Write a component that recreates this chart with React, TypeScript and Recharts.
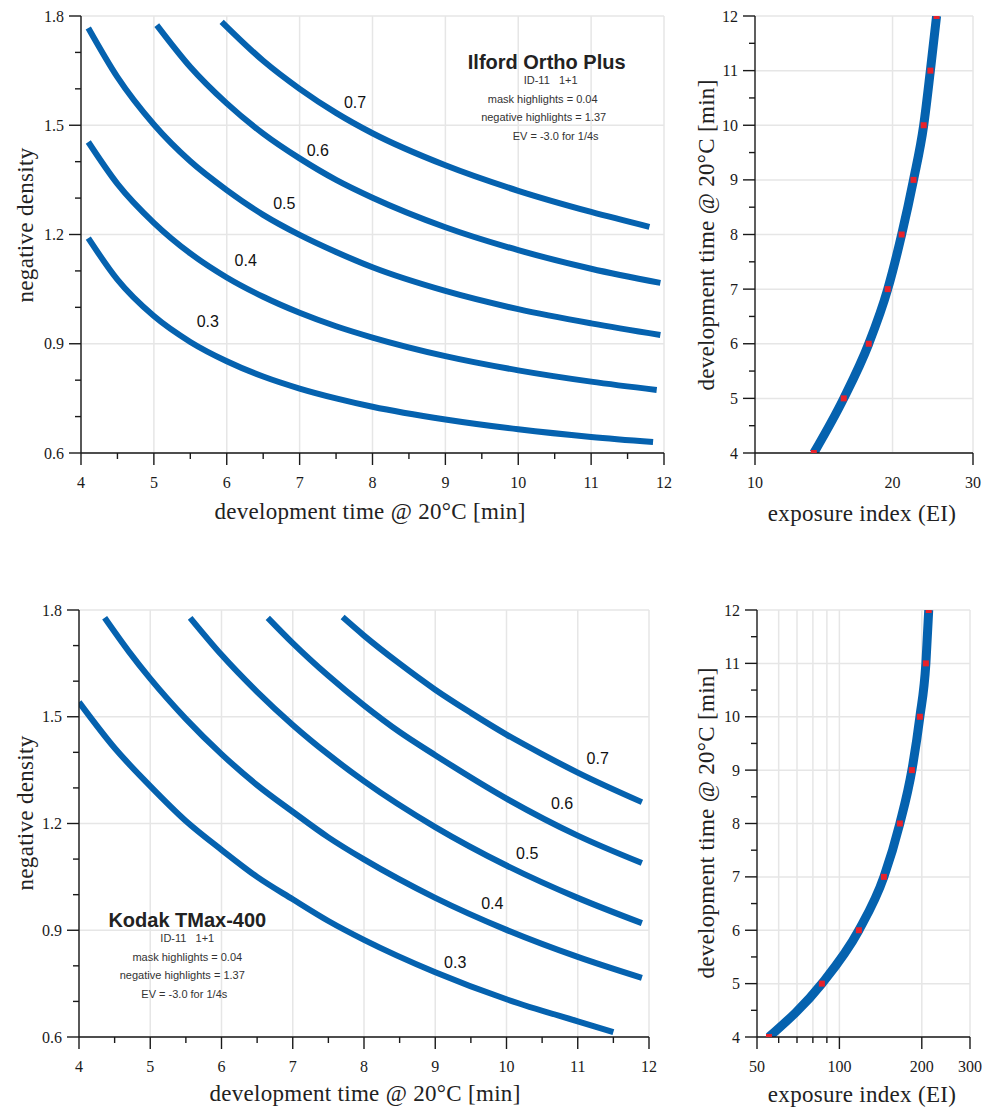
import React from 'react';
import { LineChart, Line, XAxis, YAxis, CartesianGrid, ReferenceDot } from 'recharts';

const BLUE = '#0562af';
const RED = '#e8222b';
const GRID = '#e6e6e6';
const INK = '#1a1a1a';
const SERIF = '"Liberation Serif", "Times New Roman", serif';
const SANS = '"Liberation Sans", Arial, sans-serif';

// Ilford Ortho Plus: development time [min] -> negative density, one curve per contrast index
const ilfordTime03 = [4.1, 4.5, 5, 5.5, 6, 6.5, 7, 7.5, 8, 9, 10, 11, 11.85];
const ilfordDens03 = [1.19, 1.076, 0.976, 0.905, 0.852, 0.81, 0.777, 0.75, 0.727, 0.692, 0.665, 0.644, 0.63];
const ilfordTime04 = [4.1, 4.5, 5, 5.5, 6, 6.5, 7, 7.5, 8, 9, 10, 11, 11.9];
const ilfordDens04 = [1.454, 1.339, 1.232, 1.148, 1.082, 1.029, 0.985, 0.948, 0.917, 0.866, 0.827, 0.796, 0.773];
const ilfordTime05 = [4.1, 4.5, 5, 5.5, 6, 6.5, 7, 7.5, 8, 9, 10, 11, 11.95];
const ilfordDens05 = [1.767, 1.632, 1.502, 1.401, 1.322, 1.254, 1.199, 1.152, 1.11, 1.045, 0.995, 0.956, 0.924];
const ilfordTime06 = [5.04, 5.5, 6, 6.5, 7, 7.5, 8, 9, 10, 11, 11.95];
const ilfordDens06 = [1.775, 1.66, 1.56, 1.477, 1.409, 1.35, 1.301, 1.22, 1.157, 1.106, 1.067];
const ilfordTime07 = [5.93, 6.5, 7, 7.5, 8, 9, 10, 11, 11.8];
const ilfordDens07 = [1.784, 1.677, 1.6, 1.534, 1.478, 1.39, 1.32, 1.262, 1.221];

// Kodak TMax-400
const kodakTime03 = [4, 4.5, 5, 5.5, 6, 6.5, 7, 7.5, 8, 9, 10, 11, 11.5];
const kodakDens03 = [1.541, 1.412, 1.305, 1.207, 1.126, 1.05, 0.987, 0.926, 0.873, 0.782, 0.706, 0.644, 0.614];
const kodakTime04 = [4.36, 4.7, 5, 5.5, 6, 6.5, 7, 7.5, 8, 9, 10, 11, 11.9];
const kodakDens04 = [1.778, 1.683, 1.607, 1.494, 1.395, 1.308, 1.233, 1.161, 1.099, 0.991, 0.901, 0.825, 0.766];
const kodakTime05 = [5.56, 6, 6.5, 7, 7.5, 8, 9, 10, 11, 11.9];
const kodakDens05 = [1.778, 1.674, 1.57, 1.477, 1.394, 1.319, 1.19, 1.082, 0.991, 0.92];
const kodakTime06 = [6.65, 7, 7.5, 8, 8.5, 9, 10, 11, 11.9];
const kodakDens06 = [1.778, 1.707, 1.615, 1.532, 1.457, 1.392, 1.27, 1.166, 1.089];
const kodakTime07 = [7.7, 8, 8.5, 9, 9.5, 10, 10.5, 11, 11.9];
const kodakDens07 = [1.78, 1.728, 1.649, 1.576, 1.511, 1.45, 1.395, 1.343, 1.26];

const contrastLabels = ['0.3', '0.4', '0.5', '0.6', '0.7'];
// where each curve label sits, in data units (time, density)
const ilfordLabelTime = [5.74, 6.26, 6.79, 7.25, 7.76];
const ilfordLabelDens = [0.962, 1.13, 1.286, 1.432, 1.564];
const kodakLabelTime = [9.28, 9.8, 10.29, 10.78, 11.28];
const kodakLabelDens = [0.811, 0.977, 1.117, 1.258, 1.384];

// exposure index needed for each development time
const devTimes = [4, 5, 6, 7, 8, 9, 10, 11, 12];
const ilfordEI = [13.45, 15.64, 17.74, 19.52, 20.94, 22.23, 23.4, 24.2, 24.97];
const kodakEI = [55.3, 86.3, 117.8, 145.4, 166.3, 184, 196.8, 207, 212];

const ilfordNotes = ['ID-11   1+1', 'mask highlights = 0.04', 'negative highlights = 1.37', 'EV = -3.0 for 1/4s'];
const kodakNotes = ['ID-11   1+1', 'mask highlights = 0.04', 'negative highlights = 1.37', 'EV = -3.0 for 1/4s'];

const densityMajor = [0.6, 0.9, 1.2, 1.5, 1.8];
const densityMinor = [0.7, 0.8, 1.0, 1.1, 1.3, 1.4, 1.6, 1.7];
const timeMajor = [4, 5, 6, 7, 8, 9, 10, 11, 12];
const timeMinor = [4.5, 5.5, 6.5, 7.5, 8.5, 9.5, 10.5, 11.5];
const eiTicksTop = [10, 20, 30];
const eiTicksBottom = [50, 100, 200, 300];
const eiMinorBottom = [60, 70, 80, 90];

const rows = (times: number[], dens: number[]) => times.map((t, i) => ({ t, d: dens[i] }));
const eiRows = (ei: number[]) => ei.map((e, i) => ({ ei: e, t: devTimes[i] }));
const sorted = (a: number[], b: number[]) => [...a, ...b].sort((p, q) => p - q);
const has = (arr: number[], v: number) => arr.some((a) => Math.abs(a - v) < 1e-6);

const bottomTick = (majors: number[], fmt: (v: number) => string, noLine: number[] = []) => (props: any) => {
  const { x, y, payload } = props;
  const v = payload.value;
  const major = has(majors, v);
  return (
    <g>
      {!has(noLine, v) && (
        <line x1={x} x2={x} y1={y} y2={y + (major ? 12 : 6)} stroke={INK} strokeWidth={1.4} />
      )}
      {major && (
        <text x={x} y={y + 35} textAnchor="middle" fontFamily={SERIF} fontSize={16} fill={INK}>
          {fmt(v)}
        </text>
      )}
    </g>
  );
};

const leftTick = (majors: number[], fmt: (v: number) => string) => (props: any) => {
  const { x, y, payload } = props;
  const v = payload.value;
  const major = has(majors, v);
  return (
    <g>
      <line x1={x} x2={x - (major ? 12 : 6)} y1={y} y2={y} stroke={INK} strokeWidth={1.4} />
      {major && (
        <text x={x - 17} y={y + 5.5} textAnchor="end" fontFamily={SERIF} fontSize={16} fill={INK}>
          {fmt(v)}
        </text>
      )}
    </g>
  );
};

const noteBlock = (title: string, notes: string[], shifts: number[]) => (props: any) => {
  const { viewBox } = props;
  const cx = viewBox.x + viewBox.width / 2;
  const cy = viewBox.y + viewBox.height / 2;
  return (
    <g>
      <text x={cx} y={cy} textAnchor="middle" dominantBaseline="central" fontFamily={SANS}
        fontWeight="bold" fontSize={20} fill="#222">{title}</text>
      {notes.map((n, i) => (
        <text key={n} x={cx + shifts[i]} y={cy + 18.5 * (i + 1)} textAnchor="middle" dominantBaseline="central"
          fontFamily={SANS} fontSize={11} fill="#333" style={{ whiteSpace: 'pre' }}>{n}</text>
      ))}
    </g>
  );
};

const squareDot = (props: any) => {
  const { cx, cy, index } = props;
  return <rect key={`sq-${index}`} x={cx - 3} y={cy - 3} width={6} height={6} fill={RED} />;
};

const axisStyle = { stroke: INK, strokeWidth: 1.4 };

type DensityProps = {
  left: number; top: number; width: number; height: number;
  margin: { top: number; right: number; bottom: number; left: number };
  series: { t: number; d: number }[][];
  labelTime: number[]; labelDens: number[];
  noteAt: [number, number]; title: string; notes: string[]; shifts: number[];
};

const DensityPanel = (p: DensityProps) => (
  <div style={{ position: 'absolute', left: p.left, top: p.top }}>
    <LineChart width={p.width} height={p.height} margin={p.margin}>
      <CartesianGrid stroke={GRID} strokeWidth={1.5} horizontalValues={densityMajor} verticalValues={timeMajor} />
      <XAxis type="number" dataKey="t" domain={[4, 12]} ticks={sorted(timeMajor, timeMinor)} interval={0}
        tickSize={0} tickMargin={0} tickLine={false} axisLine={axisStyle} height={40}
        tick={bottomTick(timeMajor, (v) => String(v))} allowDataOverflow />
      <YAxis type="number" domain={[0.6, 1.8]} ticks={sorted(densityMajor, densityMinor)} interval={0}
        tickSize={0} tickMargin={0} tickLine={false} axisLine={axisStyle} width={60}
        tick={leftTick(densityMajor, (v) => v.toFixed(1))} allowDataOverflow />
      {p.series.map((s, i) => (
        <Line key={i} data={s} dataKey="d" type="monotone" stroke={BLUE} strokeWidth={6}
          dot={false} activeDot={false} isAnimationActive={false} />
      ))}
      {contrastLabels.map((lab, i) => (
        <ReferenceDot key={lab} x={p.labelTime[i]} y={p.labelDens[i]} r={1} fill="none" stroke="none"
          label={{ value: lab, position: 'center', fill: '#111', fontSize: 16, fontFamily: SANS }} />
      ))}
      <ReferenceDot x={p.noteAt[0]} y={p.noteAt[1]} r={1} fill="none" stroke="none"
        label={{ content: noteBlock(p.title, p.notes, p.shifts) }} />
    </LineChart>
  </div>
);

type EIProps = {
  left: number; top: number; width: number; height: number;
  margin: { top: number; right: number; bottom: number; left: number };
  data: { ei: number; t: number }[];
  domain: [number, number]; majors: number[]; minors: number[]; grid: number[]; noLine: number[];
};

const EIPanel = (p: EIProps) => (
  <div style={{ position: 'absolute', left: p.left, top: p.top }}>
    <LineChart width={p.width} height={p.height} margin={p.margin}>
      <CartesianGrid stroke={GRID} strokeWidth={1.5} horizontalValues={timeMajor} verticalValues={p.grid} />
      <XAxis type="number" dataKey="ei" scale="log" domain={p.domain} ticks={sorted(p.majors, p.minors)} interval={0}
        tickSize={0} tickMargin={0} tickLine={false} axisLine={axisStyle} height={40}
        tick={bottomTick(p.majors, (v) => String(v), p.noLine)} allowDataOverflow />
      <YAxis type="number" domain={[4, 12]} ticks={sorted(timeMajor, timeMinor)} interval={0}
        tickSize={0} tickMargin={0} tickLine={false} axisLine={axisStyle} width={60}
        tick={leftTick(timeMajor, (v) => String(v))} allowDataOverflow />
      <Line data={p.data} dataKey="t" type="monotone" stroke={BLUE} strokeWidth={9}
        dot={squareDot} activeDot={false} isAnimationActive={false} />
    </LineChart>
  </div>
);

const AxisTitle = ({ x, y, text, vertical }: { x: number; y: number; text: string; vertical?: boolean }) => (
  <div style={{
    position: 'absolute', left: x, top: y, whiteSpace: 'nowrap', fontFamily: SERIF, fontSize: 23, color: '#222',
    letterSpacing: 0.3, lineHeight: 1, transform: `translate(-50%, -50%)${vertical ? ' rotate(-90deg)' : ''}`,
  }}>{text}</div>
);

export default function App() {
  return (
    <div style={{ position: 'absolute', left: 0, top: 0, width: 997, height: 1109, background: '#fff', overflow: 'hidden' }}>
      <DensityPanel left={0} top={0} width={690} height={540}
        margin={{ top: 16, right: 26, left: 21, bottom: 47 }}
        series={[rows(ilfordTime03, ilfordDens03), rows(ilfordTime04, ilfordDens04), rows(ilfordTime05, ilfordDens05),
          rows(ilfordTime06, ilfordDens06), rows(ilfordTime07, ilfordDens07)]}
        labelTime={ilfordLabelTime} labelDens={ilfordLabelDens}
        noteAt={[10.39, 1.674]} title="Ilford Ortho Plus" notes={ilfordNotes} shifts={[4, -4, -3, 9]} />
      <EIPanel left={690} top={0} width={307} height={540}
        margin={{ top: 16, right: 24, left: 5, bottom: 47 }}
        data={eiRows(ilfordEI)} domain={[10, 30]} majors={eiTicksTop} minors={[]} grid={[20, 30]} noLine={[20]} />
      <DensityPanel left={0} top={594} width={690} height={500}
        margin={{ top: 16, right: 41, left: 19, bottom: 17 }}
        series={[rows(kodakTime03, kodakDens03), rows(kodakTime04, kodakDens04), rows(kodakTime05, kodakDens05),
          rows(kodakTime06, kodakDens06), rows(kodakTime07, kodakDens07)]}
        labelTime={kodakLabelTime} labelDens={kodakLabelDens}
        noteAt={[5.52, 0.929]} title="Kodak TMax-400" notes={kodakNotes} shifts={[0, 0, -5, -3]} />
      <EIPanel left={690} top={594} width={307} height={500}
        margin={{ top: 16, right: 27, left: 7, bottom: 17 }}
        data={eiRows(kodakEI)} domain={[50, 300]} majors={eiTicksBottom} minors={eiMinorBottom}
        grid={[60, 70, 80, 90, 100, 200, 300]} noLine={[]} />

      <AxisTitle x={370} y={511} text="development time @ 20°C [min]" />
      <AxisTitle x={25} y={225} text="negative density" vertical />
      <AxisTitle x={862} y={513} text="exposure index (EI)" />
      <AxisTitle x={706} y={235} text="development time @ 20°C [min]" vertical />
      <AxisTitle x={365} y={1093} text="development time @ 20°C [min]" />
      <AxisTitle x={25} y={813} text="negative density" vertical />
      <AxisTitle x={862} y={1094} text="exposure index (EI)" />
      <AxisTitle x={706} y={823} text="development time @ 20°C [min]" vertical />
    </div>
  );
}
